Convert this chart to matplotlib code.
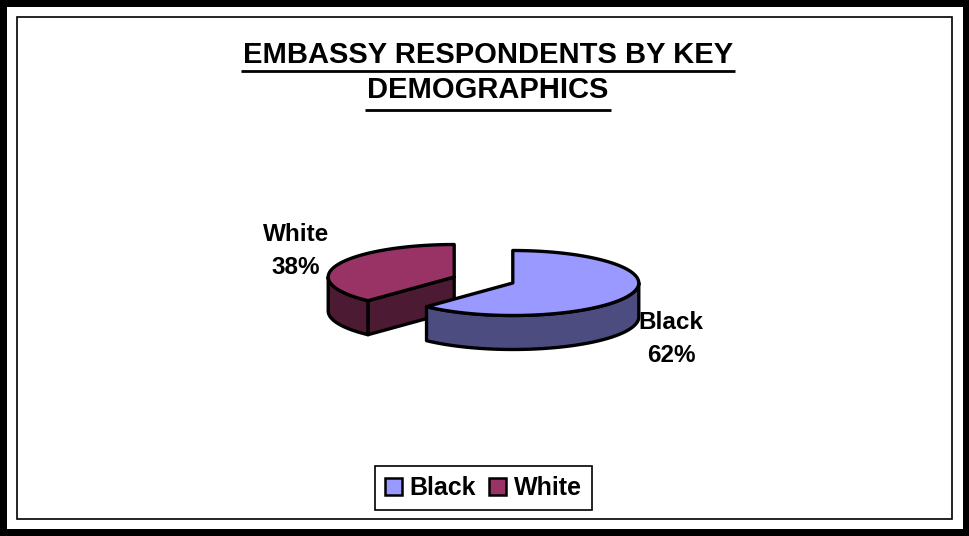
import numpy as np
import matplotlib.pyplot as plt
from matplotlib.patches import Polygon, Rectangle, Patch

plt.rcParams["font.family"] = ["Liberation Sans", "DejaVu Sans"]
plt.rcParams["font.weight"] = "bold"

# data
categories = ["Black", "White"]
shares = [62, 38]
labels = ["Black\n62%", "White\n38%"]
top_colors = ["#9999FF", "#993366"]
side_colors = ["#4C4C80", "#4D1A33"]
title_lines = ["EMBASSY RESPONDENTS BY KEY", "DEMOGRAPHICS"]

W, H = 969, 536
fig = plt.figure(figsize=(W / 100, H / 100), dpi=100)
ax = fig.add_axes([0, 0, 1, 1])
ax.set_xlim(0, W)
ax.set_ylim(H, 0)
ax.axis("off")

# frame
ax.add_patch(Rectangle((0, 0), W, H, facecolor="black", edgecolor="none", zorder=0))
ax.add_patch(Rectangle((7, 7), 956, 522, facecolor="white", edgecolor="none", zorder=0))
ax.add_patch(Rectangle((17, 17), 935, 502, facecolor="white", edgecolor="black",
                       lw=1.2, zorder=1))

# 3d pie geometry (pixels, y down), angles clockwise from 12 o'clock
cx, cy = 483.5, 280
rx, ry = 126, 32.5
depth = 34
explode = 31.5
lw = 2.4


def rim(c, a, dz=0):
    t = np.radians(a)
    return np.column_stack([c[0] + rx * np.sin(t), c[1] - ry * np.cos(t) + dz])


def draw_slice(a0, a1, top, side):
    mid = np.radians((a0 + a1) / 2)
    c = (cx + explode * np.sin(mid), cy - explode * np.cos(mid) * ry / rx)
    kw = dict(edgecolor="black", lw=lw, joinstyle="round", zorder=3)
    # cut faces
    for a, sgn in ((a0, -1), (a1, 1)):
        if sgn * np.sin(np.radians(a)) > 1e-6:
            p = rim(c, [a])[0]
            pts = [c, p, (p[0], p[1] + depth), (c[0], c[1] + depth)]
            ax.add_patch(Polygon(pts, facecolor=side, **kw))
    # outer side (front half only)
    s, e = max(a0, 90), min(a1, 270)
    if e > s:
        aa = np.linspace(s, e, 80)
        up = rim(c, aa)
        dn = rim(c, aa[::-1], depth)
        ax.add_patch(Polygon(np.vstack([up, dn]), facecolor=side, **kw))
    # top face
    aa = np.linspace(a0, a1, 150)
    pts = np.vstack([[c], rim(c, aa)])
    ax.add_patch(Polygon(pts, facecolor=top, **kw))


angles = np.concatenate([[0], np.cumsum(shares) / sum(shares) * 360])
for i in reversed(range(len(shares))):
    draw_slice(angles[i], angles[i + 1], top_colors[i], side_colors[i])

# data labels
label_pos = [(671, 339), (296, 251)]
for lab, (x, y) in zip(labels, label_pos):
    ax.text(x, y, lab, ha="center", va="center", fontsize=17.5,
            fontweight="bold", linespacing=1.6, zorder=5)

# title with underline
fig.canvas.draw()
r = fig.canvas.get_renderer()
inv = ax.transData.inverted()
for txt, base, uy in zip(title_lines, [63, 98], [71, 110]):
    t = ax.text(488, base, txt, ha="center", va="baseline", fontsize=21,
                fontweight="bold", zorder=5)
    bb = t.get_window_extent(r)
    x0 = inv.transform((bb.x0, 0))[0]
    x1 = inv.transform((bb.x1, 0))[0]
    ax.plot([x0 - 2, x1 + 2], [uy, uy], color="black", lw=2, solid_capstyle="butt", zorder=5)

# legend
handles = [Patch(facecolor=c, edgecolor="black", lw=1.8) for c in top_colors]
leg = ax.legend(handles, categories, loc="center", ncol=2,
                bbox_to_anchor=(483 / W, 1 - 488 / H), bbox_transform=fig.transFigure,
                fancybox=False, edgecolor="black", framealpha=1,
                prop={"weight": "bold", "size": 18},
                handlelength=0.7, handleheight=0.7, handletextpad=0.3,
                columnspacing=0.5, borderpad=0.4)
leg.get_frame().set_linewidth(1.2)

fig.savefig("out.png", dpi=100)
